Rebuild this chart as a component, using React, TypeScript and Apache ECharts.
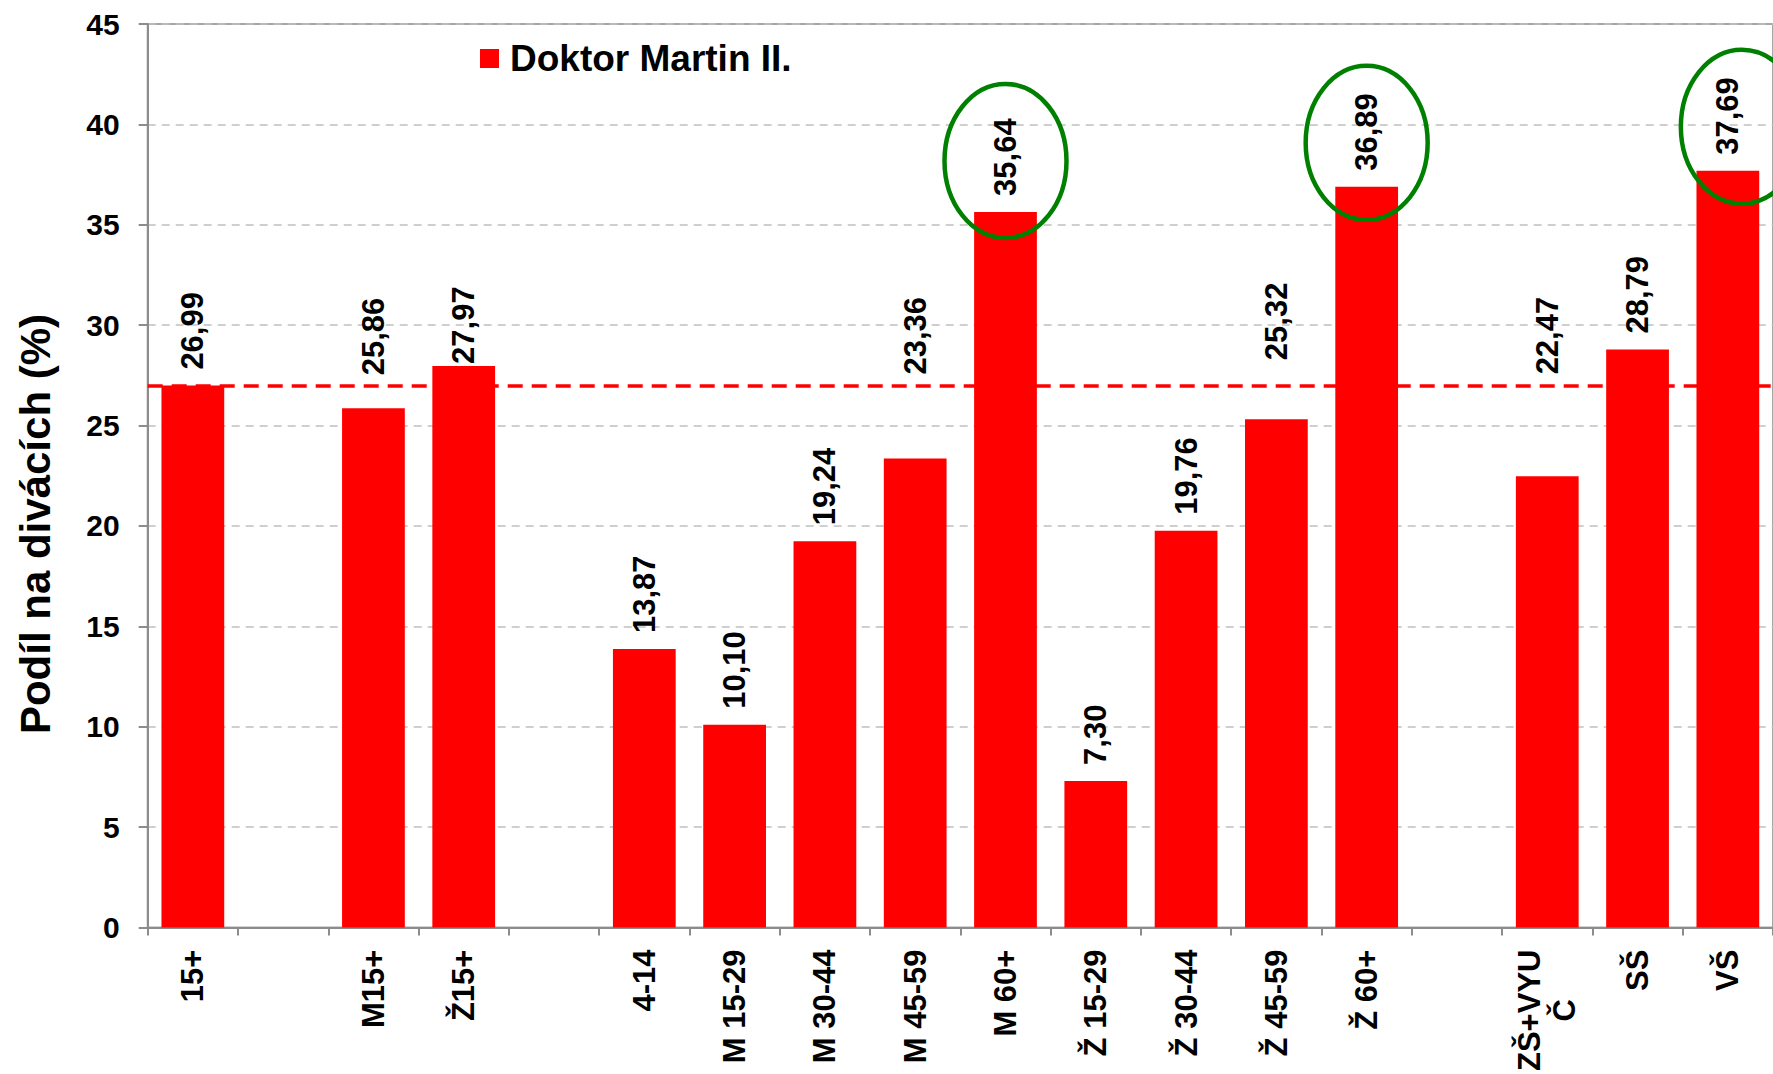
import React, { useEffect, useRef } from "react";
import * as echarts from "echarts";

// ---- data ----
const categories: string[] = [
  "15+", "", "M15+", "Ž15+", "", "4-14", "M 15-29", "M 30-44", "M 45-59",
  "M 60+", "Ž 15-29", "Ž 30-44", "Ž 45-59", "Ž 60+", "", "ZŠ+VYUČ", "SŠ", "VŠ",
];
const shareValues: (number | null)[] = [
  26.99, null, 25.86, 27.97, null, 13.87, 10.1, 19.24, 23.36,
  35.64, 7.3, 19.76, 25.32, 36.89, null, 22.47, 28.79, 37.69,
];
const seriesName = "Doktor Martin II.";
const averageValue = 26.99;
const yMin = 0;
const yMax = 45;
const yInterval = 5;
const yAxisTitle = "Podíl na divácích (%)";
const highlightedCategories = ["M 60+", "Ž 60+", "VŠ"];

// ---- styling (label distance above bar, px; ellipse offsets, px) ----
const labelDistances = [16, 0, 33, 2, 0, 16, 16, 16, 84, 16, 16, 16, 59, 16, 0, 102, 16, 16];
const ellipseLift = [51, 44, 44];
const ellipseShiftX = [0, 0, 14];

const FONT = "'Liberation Sans', Arial, Helvetica, sans-serif";

export default function App() {
  const ref = useRef<HTMLDivElement>(null);

  useEffect(() => {
    if (!ref.current) return;
    const chart = echarts.init(ref.current, undefined, { renderer: "svg" });

    const barData = shareValues.map((v, i) =>
      v === null
        ? "-"
        : {
            value: v,
            label: { distance: labelDistances[i] },
          }
    );

    const ellipseData = highlightedCategories.map((c, k) => {
      const i = categories.indexOf(c);
      return [i, shareValues[i] as number, ellipseLift[k], ellipseShiftX[k]];
    });

    const option: any = {
      animation: false,
      backgroundColor: "#ffffff",
      grid: {
        left: 147.7,
        top: 24,
        width: 1632.6,
        height: 905,
        show: true,
        borderColor: "#a6a6a6",
        borderWidth: 2,
        backgroundColor: "transparent",
      },
      legend: {
        data: [seriesName],
        left: 475,
        top: 35,
        itemWidth: 19,
        itemHeight: 19,
        icon: "rect",
        textStyle: {
          fontSize: 37,
          fontWeight: "bold",
          fontFamily: FONT,
          color: "#000",
          padding: [0, 0, 0, 6],
        },
      },
      xAxis: {
        type: "category",
        data: categories,
        boundaryGap: true,
        axisLine: { show: true, lineStyle: { color: "#8c8c8c", width: 2 } },
        axisTick: {
          show: true,
          alignWithLabel: false,
          interval: 0,
          length: 8,
          lineStyle: { color: "#8c8c8c", width: 2 },
        },
        axisLabel: {
          interval: 0,
          rotate: 90,
          margin: 22,
          fontSize: 31,
          fontWeight: "bold",
          fontFamily: FONT,
          color: "#000",
          formatter: (v: string) =>
            v === "ZŠ+VYUČ" ? "{a|ZŠ+VYU}\n{b|Č}" : v,
          rich: {
            a: { fontSize: 31, fontWeight: "bold", fontFamily: FONT, color: "#000", align: "right", lineHeight: 35 },
            b: { fontSize: 31, fontWeight: "bold", fontFamily: FONT, color: "#000", align: "center", lineHeight: 35 },
          },
        },
        splitLine: { show: false },
      },
      yAxis: {
        type: "value",
        min: yMin,
        max: yMax,
        interval: yInterval,
        axisLine: { show: true, lineStyle: { color: "#8c8c8c", width: 2 } },
        axisTick: { show: true, length: 9, lineStyle: { color: "#8c8c8c", width: 2 } },
        axisLabel: {
          margin: 28,
          fontSize: 30,
          fontWeight: "bold",
          fontFamily: FONT,
          color: "#000",
        },
        splitLine: {
          show: true,
          lineStyle: { color: "#c0c0c0", type: [8, 6], width: 1.5 },
        },
      },
      graphic: [
        {
          type: "text",
          x: 35,
          y: 524,
          rotation: Math.PI / 2,
          style: {
            text: yAxisTitle,
            fontSize: 42,
            fontWeight: "bold",
            fontFamily: FONT,
            fill: "#000",
            align: "center",
            verticalAlign: "middle",
          },
        },
      ],
      series: [
        {
          name: seriesName,
          type: "bar",
          data: barData,
          barWidth: "69.5%",
          itemStyle: { color: "#ff0000" },
          label: {
            show: true,
            position: "top",
            rotate: 90,
            align: "left",
            verticalAlign: "middle",
            fontSize: 31,
            fontWeight: "bold",
            fontFamily: FONT,
            color: "#000",
            formatter: (p: any) =>
              typeof p.value === "number" ? p.value.toFixed(2).replace(".", ",") : "",
          },
          markLine: {
            silent: true,
            symbol: "none",
            label: { show: false },
            lineStyle: { color: "#ff0000", type: [15, 9], width: 3.5 },
            data: [{ yAxis: averageValue }],
          },
          z: 2,
        },
        {
          type: "custom",
          name: "highlight",
          data: ellipseData,
          encode: { x: 0, y: 1 },
          clip: false,
          z: 5,
          silent: true,
          renderItem: (_params: any, api: any) => {
            const p = api.coord([api.value(0), api.value(1)]);
            const lift = api.value(2);
            const dx = api.value(3);
            return {
              type: "ellipse",
              shape: { cx: p[0] + dx, cy: p[1] - lift, rx: 61, ry: 77 },
              style: { fill: "none", stroke: "#008000", lineWidth: 4.5 },
            };
          },
        },
      ],
    };

    chart.setOption(option);
    return () => chart.dispose();
  }, []);

  return (
    <div
      ref={ref}
      style={{ position: "fixed", left: 0, top: 0, width: 1773, height: 1074, background: "#fff" }}
    />
  );
}
